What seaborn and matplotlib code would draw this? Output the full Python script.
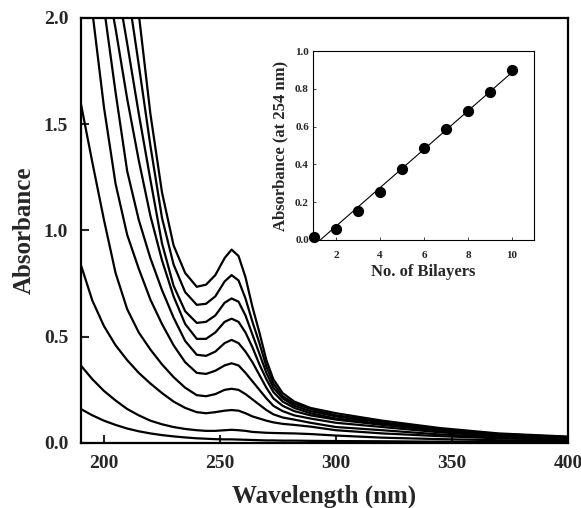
import numpy as np
import pandas as pd
import matplotlib
matplotlib.use('Agg')
import matplotlib.pyplot as plt
import seaborn as sns

# wavelength grid (nm)
wavelength = [190, 195, 200, 205, 210, 215, 220, 225, 230, 235, 240, 244, 248, 252, 255,
              258, 261, 264, 267, 270, 273, 277, 282, 289, 300, 320, 345, 370, 400]

# absorbance spectra, one list per number of bilayers (1 .. 10)
abs_1 = [0.16, 0.13, 0.105, 0.085, 0.068, 0.055, 0.045, 0.037, 0.031, 0.026, 0.022, 0.020, 0.018, 0.017, 0.017,
         0.016, 0.015, 0.014, 0.013, 0.012, 0.012, 0.011, 0.011, 0.010, 0.009, 0.008, 0.006, 0.005, 0.004]
abs_2 = [0.365, 0.30, 0.245, 0.20, 0.16, 0.13, 0.105, 0.088, 0.075, 0.066, 0.060, 0.057, 0.057, 0.060, 0.062,
         0.060, 0.057, 0.052, 0.050, 0.048, 0.047, 0.046, 0.045, 0.042, 0.035, 0.025, 0.018, 0.013, 0.010]
abs_3 = [0.84, 0.67, 0.55, 0.46, 0.39, 0.33, 0.28, 0.235, 0.195, 0.165, 0.145, 0.14, 0.145, 0.152, 0.155,
         0.152, 0.14, 0.125, 0.115, 0.105, 0.097, 0.09, 0.085, 0.077, 0.06, 0.045, 0.032, 0.022, 0.015]
abs_4 = [1.60, 1.32, 1.05, 0.80, 0.63, 0.52, 0.44, 0.37, 0.31, 0.26, 0.225, 0.22, 0.23, 0.25, 0.255,
         0.25, 0.23, 0.205, 0.18, 0.155, 0.135, 0.12, 0.11, 0.095, 0.075, 0.06, 0.04, 0.027, 0.018]
abs_5 = [2.5, 2.03, 1.58, 1.22, 0.98, 0.82, 0.675, 0.56, 0.46, 0.38, 0.33, 0.325, 0.34, 0.365, 0.375,
         0.365, 0.33, 0.29, 0.25, 0.21, 0.175, 0.15, 0.13, 0.115, 0.095, 0.075, 0.05, 0.032, 0.022]
abs_6 = [2.75, 2.38, 2.05, 1.65, 1.28, 1.05, 0.87, 0.72, 0.59, 0.48, 0.415, 0.41, 0.43, 0.47, 0.485,
         0.47, 0.43, 0.38, 0.32, 0.26, 0.21, 0.175, 0.15, 0.13, 0.11, 0.085, 0.057, 0.036, 0.024]
abs_7 = [2.9, 2.55, 2.25, 1.95, 1.62, 1.33, 1.07, 0.86, 0.69, 0.56, 0.49, 0.49, 0.52, 0.57, 0.585,
         0.57, 0.52, 0.45, 0.37, 0.30, 0.24, 0.195, 0.165, 0.14, 0.115, 0.09, 0.06, 0.038, 0.025]
abs_8 = [3.2, 2.85, 2.5, 2.2, 1.88, 1.55, 1.24, 0.94, 0.74, 0.62, 0.565, 0.57, 0.60, 0.66, 0.68,
         0.665, 0.60, 0.51, 0.42, 0.33, 0.26, 0.21, 0.175, 0.15, 0.125, 0.095, 0.062, 0.04, 0.027]
abs_9 = [3.4, 3.0, 2.7, 2.4, 2.15, 1.78, 1.40, 1.06, 0.84, 0.71, 0.65, 0.655, 0.69, 0.76, 0.79,
         0.765, 0.68, 0.57, 0.47, 0.36, 0.28, 0.22, 0.185, 0.16, 0.13, 0.10, 0.065, 0.042, 0.028]
abs_10 = [3.6, 3.2, 2.85, 2.5, 2.25, 2.02, 1.55, 1.18, 0.93, 0.80, 0.735, 0.745, 0.79, 0.87, 0.91,
          0.88, 0.78, 0.64, 0.52, 0.39, 0.30, 0.235, 0.195, 0.165, 0.14, 0.105, 0.07, 0.045, 0.03]

spectra = [abs_1, abs_2, abs_3, abs_4, abs_5, abs_6, abs_7, abs_8, abs_9, abs_10]

# inset: absorbance at 254 nm vs number of bilayers
bilayers = [1, 2, 3, 4, 5, 6, 7, 8, 9, 10]
abs_254 = [0.015, 0.06, 0.155, 0.255, 0.375, 0.485, 0.585, 0.68, 0.785, 0.90]

sns.set_style('ticks')
plt.rcParams['font.family'] = ['Liberation Serif', 'DejaVu Serif']
plt.rcParams['font.weight'] = 'bold'

# long table for seaborn
rows = []
for n, s in enumerate(spectra, start=1):
    for w, a in zip(wavelength, s):
        rows.append({'Wavelength': w, 'Absorbance': a, 'Bilayers': n})
df = pd.DataFrame(rows)

fig = plt.figure(figsize=(5.81, 5.08), dpi=100)
ax = fig.add_axes([0.139, 0.128, 0.8386, 0.8366])

sns.lineplot(data=df, x='Wavelength', y='Absorbance', units='Bilayers', estimator=None,
             color='black', linewidth=1.6, ax=ax)

ax.set_xlim(190, 400)
ax.set_ylim(0, 2.0)
ax.set_xticks([200, 250, 300, 350, 400])
ax.set_yticks([0.0, 0.5, 1.0, 1.5, 2.0])
ax.set_yticklabels(['0.0', '0.5', '1.0', '1.5', '2.0'])
ax.tick_params(direction='in', length=6, width=1.5, labelsize=14, pad=9)
for lbl in ax.get_xticklabels() + ax.get_yticklabels():
    lbl.set_fontweight('bold')
for sp in ax.spines.values():
    sp.set_linewidth(1.6)
    sp.set_color('black')
ax.set_xlabel('Wavelength (nm)', fontsize=18, fontweight='bold', labelpad=9)
ax.set_ylabel('Absorbance', fontsize=18, fontweight='bold', labelpad=6)

# inset
ins = fig.add_axes([0.539, 0.5276, 0.380, 0.372])
sns.regplot(x=bilayers, y=abs_254, ci=None, ax=ins, truncate=True,
            scatter_kws={'s': 50, 'color': 'black', 'clip_on': False, 'zorder': 3, 'alpha': 1},
            line_kws={'color': 'black', 'linewidth': 0.8})
ins.set_xlim(0.95, 11)
ins.set_ylim(0, 1.0)
ins.set_xticks([2, 4, 6, 8, 10])
ins.set_yticks([0.0, 0.2, 0.4, 0.6, 0.8, 1.0])
ins.set_yticklabels(['0.0', '0.2', '0.4', '0.6', '0.8', '1.0'])
ins.tick_params(axis='x', direction='in', length=2, width=0.6, labelsize=8, pad=8)
ins.tick_params(axis='y', direction='in', length=2, width=0.6, labelsize=8, pad=3)
for lbl in ins.get_xticklabels() + ins.get_yticklabels():
    lbl.set_fontweight('bold')
for sp in ins.spines.values():
    sp.set_linewidth(0.8)
    sp.set_color('black')
ins.set_xlabel('No. of Bilayers', fontsize=12, fontweight='bold', labelpad=3)
ins.set_ylabel('Absorbance (at 254 nm)', fontsize=12, fontweight='bold', labelpad=5)

fig.savefig('out.png', dpi=100)
